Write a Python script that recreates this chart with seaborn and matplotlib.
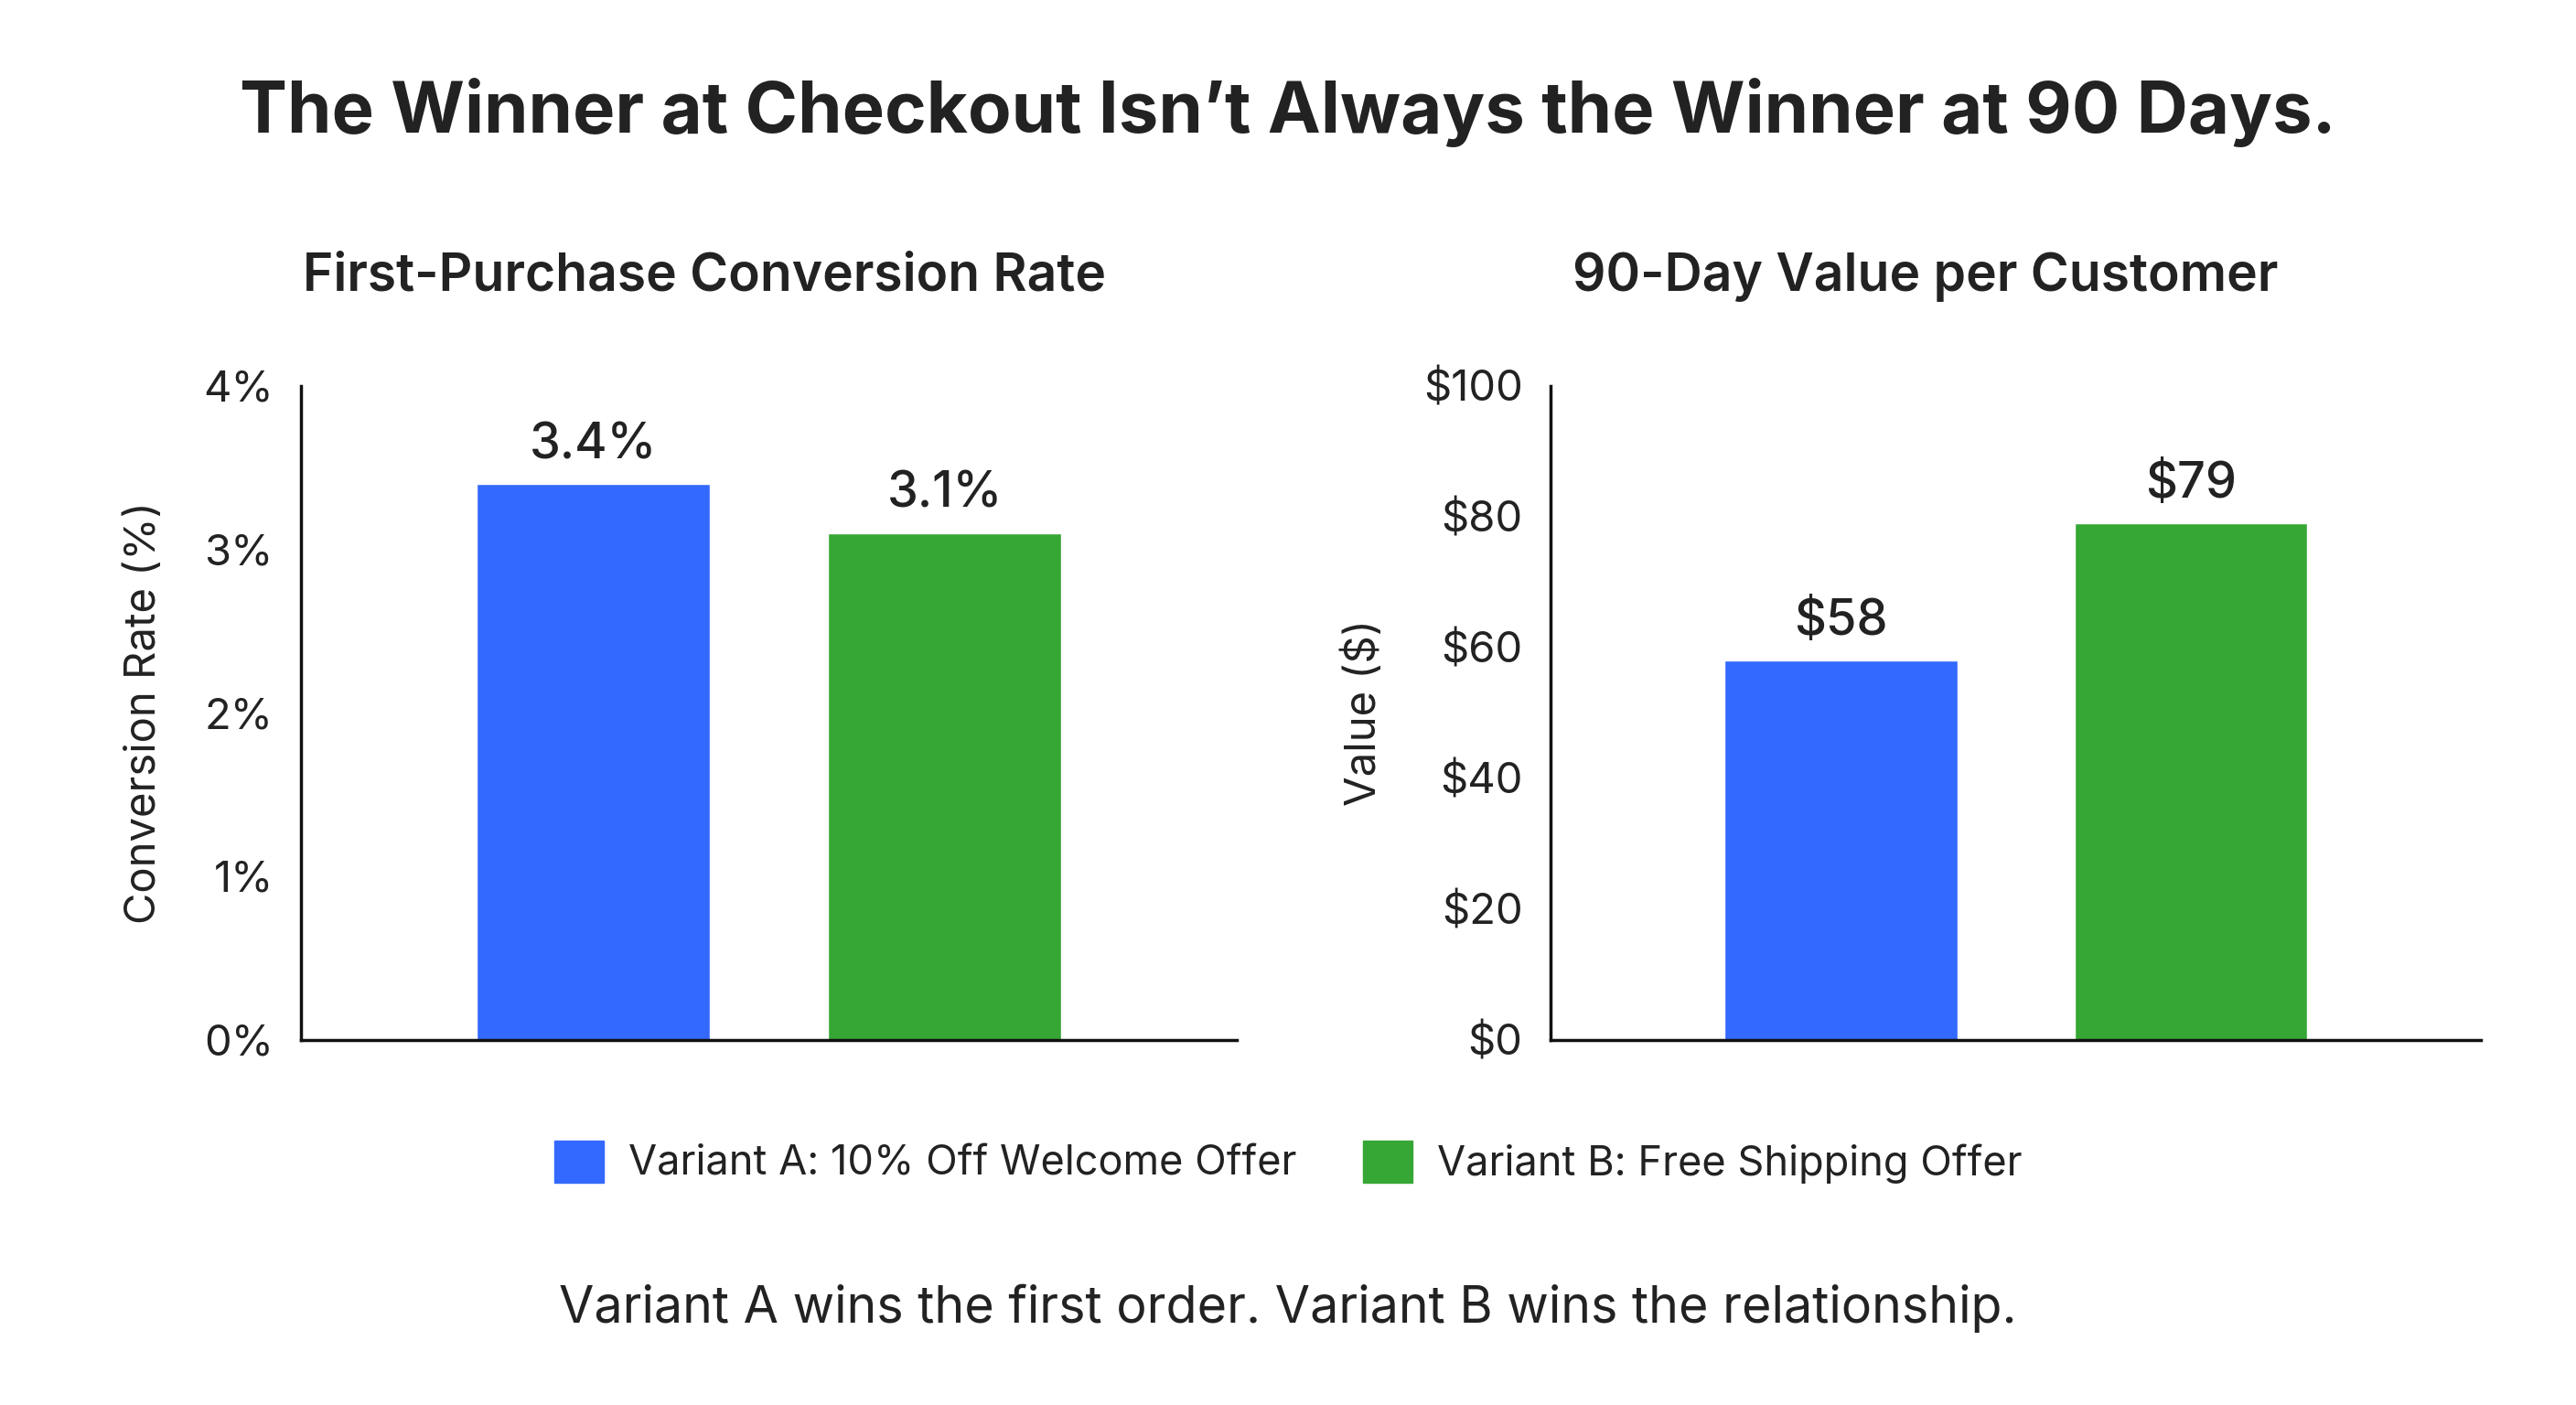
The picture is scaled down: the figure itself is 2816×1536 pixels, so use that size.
import matplotlib
matplotlib.use("Agg")
import matplotlib.pyplot as plt
import matplotlib.patches as mpatches
import pandas as pd
import seaborn as sns

variants = ["Variant A: 10% Off Welcome Offer", "Variant B: Free Shipping Offer"]
conversion = [3.4, 3.1]
value_90d = [58, 79]
colors = ["#3369FF", "#36A634"]

conv_ticks = [0, 1, 2, 3, 4]
value_ticks = [0, 20, 40, 60, 80, 100]

sns.set_theme(style="white")
plt.rcParams['font.family'] = ['Inter', 'DejaVu Sans']
ink = "#222222"

df = pd.DataFrame({"variant": variants, "conversion": conversion, "value": value_90d})
pal = dict(zip(variants, colors))

fig = plt.figure(figsize=(28.16, 15.36), dpi=100)
ax1 = fig.add_axes([0.117, 0.26, 0.363, 0.4655])
ax2 = fig.add_axes([0.602, 0.26, 0.361, 0.4655])

sns.barplot(data=df, x="variant", y="conversion", hue="variant", palette=pal,
            width=0.665, saturation=1, legend=False, ax=ax1)
sns.barplot(data=df, x="variant", y="value", hue="variant", palette=pal,
            width=0.665, saturation=1, legend=False, ax=ax2)

ax1.set_ylim(0, 4)
ax1.set_yticks(conv_ticks)
ax1.set_yticklabels([f"{t}%" for t in conv_ticks])
ax1.set_ylabel("Conversion Rate (%)", fontsize=34, color=ink, labelpad=30)

ax2.set_ylim(0, 100)
ax2.set_yticks(value_ticks)
ax2.set_yticklabels([f"${t}" for t in value_ticks])
ax2.set_ylabel("Value ($)", fontsize=34, color=ink, labelpad=30)

for ax in (ax1, ax2):
    ax.set_xlim(-0.83, 1.83)
    ax.set_xlabel("")
    ax.set_xticks([])
    sns.despine(ax=ax)
    for s in ("left", "bottom"):
        ax.spines[s].set_color("#111111")
        ax.spines[s].set_linewidth(2.5)
    ax.tick_params(axis="y", length=0, pad=22, labelsize=34, labelcolor=ink)

for c in ax1.containers:
    ax1.bar_label(c, labels=[f"{v}%" for v in c.datavalues], padding=12,
                  fontsize=39, color=ink, fontweight="medium")
for c in ax2.containers:
    ax2.bar_label(c, labels=[f"${v:.0f}" for v in c.datavalues], padding=12,
                  fontsize=39, color=ink, fontweight="medium")

fig.text(0.5, 0.92, "The Winner at Checkout Isn\u2019t Always the Winner at 90 Days.",
         ha="center", va="center", fontsize=56, fontweight="bold", color=ink)
fig.text(0.2736, 0.803, "First-Purchase Conversion Rate", ha="center", va="center",
         fontsize=41, fontweight="semibold", color=ink)
fig.text(0.7475, 0.803, "90-Day Value per Customer", ha="center", va="center",
         fontsize=41, fontweight="semibold", color=ink)

handles = [mpatches.Patch(color=c, label=v) for v, c in zip(variants, colors)]
fig.legend(handles=handles, loc="center", bbox_to_anchor=(0.5, 0.173), ncol=2,
           frameon=False, fontsize=32.5, handlelength=1.2, handleheight=1.2,
           handletextpad=0.6, columnspacing=1.6, labelcolor=ink)

fig.text(0.5, 0.069, "Variant A wins the first order. Variant B wins the relationship.",
         ha="center", va="center", fontsize=40, color=ink)

fig.savefig("out.png", dpi=100, facecolor="white")
